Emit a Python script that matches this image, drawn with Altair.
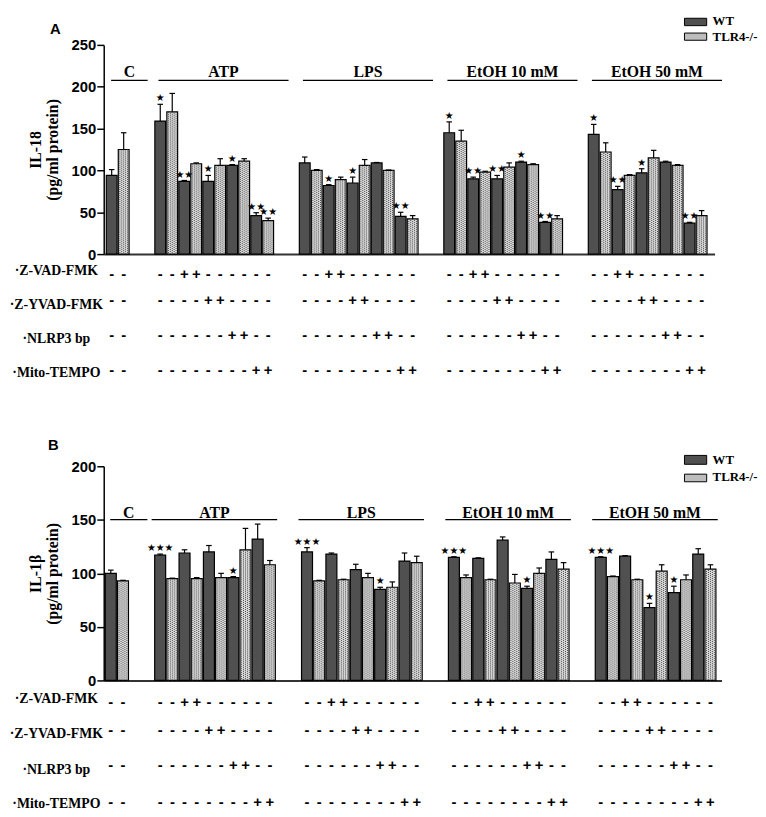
import altair as alt
import pandas as pd

groups = ["C", "ATP", "LPS", "EtOH 10 mM", "EtOH 50 mM"]
series = ["WT", "TLR4-/-"]
treatments = ["·Z-VAD-FMK", "·Z-YVAD-FMK", "·NLRP3 bp", "·Mito-TEMPO"]
# treatment row marked "+" for each WT / TLR4-/- pair of a group (-1 = none)
pair_treatment = [[-1], [-1, 0, 1, 2, 3], [-1, 0, 1, 2, 3], [-1, 0, 1, 2, 3], [-1, 0, 1, 2, 3]]

# Panel A: IL-18
il18_wt = [[94], [159, 87, 87, 106, 46], [109, 82, 85, 109, 45], [145, 90, 90, 110, 38], [143, 77, 97, 110, 37]]
il18_wt_err = [[7], [20, 1, 7, 1, 3.5], [7, 1, 7, 0.5, 5], [13, 2, 4, 1, 1], [12, 4, 5, 1, 1]]
il18_tlr = [[125], [170, 108, 106, 111, 40], [100, 89, 106, 100, 42], [135, 98, 104, 107, 42], [122, 94, 115, 106, 46]]
il18_tlr_err = [[20], [22, 1, 8, 3, 3], [1, 3, 7, 0.5, 4], [13, 1, 5, 1, 4], [11, 1, 9, 1, 6]]
il18_wt_sig = [[""], ["*", "**", "*", "*", "**"], ["", "*", "*", "", "**"], ["*", "**", "**", "*", "**"], ["*", "**", "*", "", "**"]]
il18_tlr_sig = [[""], ["", "", "", "", "**"], ["", "", "", "", ""], ["", "", "", "", ""], ["", "", "", "", ""]]

# Panel B: IL-1beta
il1b_wt = [[100], [117, 119, 120, 96, 132], [120, 118, 103.5, 85, 111.5], [115, 114, 131, 86, 113], [115, 116, 68, 82, 118]]
il1b_wt_err = [[3], [1, 3, 6, 1, 14], [4, 1, 5, 2, 7.5], [0.5, 0.5, 3, 2, 7], [0.5, 0.5, 4, 6, 5]]
il1b_tlr = [[93], [95, 95, 96, 122, 108], [93, 94, 96, 87, 110], [96, 94, 91, 100, 104], [97, 94, 102, 94, 104]]
il1b_tlr_err = [[0.5], [0.5, 1, 4, 20, 4], [0.5, 0.5, 4, 5, 6], [2.5, 0.5, 8, 5, 6], [0.5, 0.5, 6, 4.5, 4]]
il1b_wt_sig = [[""], ["***", "", "", "*", ""], ["***", "", "", "*", ""], ["***", "", "", "*", ""], ["***", "", "*", "*", ""]]
il1b_tlr_sig = [[""], ["", "", "", "", ""], ["", "", "", "", ""], ["", "", "", "", ""], ["", "", "", "", ""]]

GAP = 2.05
WT_FILL = "#505050"
TLR_FILL = "#dcdcdc"
SERIF = "Liberation Serif"
SANS = "Liberation Sans"


def group_starts():
    starts, s = [], 0.0
    for pairs in pair_treatment:
        starts.append(s)
        s += 2 * len(pairs) + GAP
    return starts


def panel(vals, ymax, ytitle, letter, cfg):
    wt, wt_err, wt_sig, tlr, tlr_err, tlr_sig = vals
    W, H, slot, origin = cfg["W"], cfg["H"], cfg["slot"], cfg["origin"]
    starts = group_starts()
    rows, pat, signs = [], [], []
    for g, grp in enumerate(groups):
        for k, tr in enumerate(pair_treatment[g]):
            for s, (v, e, sg) in enumerate(((wt, wt_err, wt_sig), (tlr, tlr_err, tlr_sig))):
                pos = starts[g] + 2 * k + s
                val = v[g][k]
                rows.append({
                    "series": series[s], "x0": pos + 0.05, "x1": pos + 0.95,
                    "xc": pos + 0.5, "cap0": pos + 0.27, "cap1": pos + 0.73,
                    "value": val, "top": val + e[g][k], "zero": 0,
                    "sig": sg[g][k].replace("*", "\u2605"),
                })
                if s == 1:
                    for j in range(5):
                        pat.append({"xp": pos + 0.18 + 0.16 * j, "value": val, "zero": 0, "phase": j % 2})
                for r in range(len(treatments)):
                    signs.append({"xc": pos + 0.5, "row": r, "sign": "+" if tr == r else "-"})
    df = pd.DataFrame(rows)
    pdf = pd.DataFrame(pat)
    sdf = pd.DataFrame(signs)
    heads = []
    for g, grp in enumerate(groups):
        n = 2 * len(pair_treatment[g])
        lo = starts[g] + (0.45 if g == 0 else cfg["hlo"])
        hi = max(starts[g] + n + cfg["hhi"], starts[g] + 3.5)
        heads.append({"label": grp, "lo": lo, "hi": hi, "mid": (lo + hi) / 2})
    hdf = pd.DataFrame(heads)

    xs = alt.Scale(domain=[-origin / slot, (W - origin) / slot], nice=False, zero=False)
    ys = alt.Scale(domain=[0, ymax], nice=False)
    xax = alt.Axis(labels=False, ticks=False, grid=False, title=None,
                   domainColor="#333333", domainWidth=2)
    yax = alt.Axis(
        values=list(range(0, ymax + 1, 50)), grid=False, title=ytitle,
        labelFont=SANS, labelFontWeight="bold", labelFontSize=15, labelColor="black",
        labelPadding=1, tickSize=7, tickWidth=1.5, tickColor="black",
        domainColor="black", domainWidth=1.5,
        titleFont=SERIF, titleFontWeight="bold", titleFontSize=16, titleColor="black",
        titleLineHeight=17, titlePadding=11)

    def X(f):
        return alt.X(f, type="quantitative", scale=xs, axis=xax)

    def Y(f):
        return alt.Y(f, type="quantitative", scale=ys, axis=yax)

    bars = alt.Chart(df).mark_rect(stroke="black", strokeWidth=1.2).encode(
        x=X("x0"), x2="x1", y=Y("value"), y2="zero",
        fill=alt.Fill("series:N", scale=alt.Scale(domain=series, range=[WT_FILL, TLR_FILL]), legend=None),
    )
    layers = [bars]
    for ph in (0, 1):
        layers.append(alt.Chart(pdf).transform_filter(alt.datum.phase == ph).mark_rule(
            strokeDash=[1, 1], strokeDashOffset=ph, strokeWidth=1, color="#444444").encode(
            x=X("xp"), y=Y("value"), y2="zero"))
    err = alt.Chart(df).mark_rule(color="black", strokeWidth=1.2).encode(
        x=X("xc"), y=Y("value"), y2="top")
    cap = alt.Chart(df).mark_rule(color="black", strokeWidth=1.2).encode(
        x=X("cap0"), x2="cap1", y=Y("top"))
    stars = alt.Chart(df).mark_text(font="DejaVu Sans", fontSize=10, color="black",
                                    baseline="alphabetic", dy=-3).encode(
        x=X("xc"), y=Y("top"), text="sig:N")
    layers += [err, cap, stars]

    hline = alt.Chart(hdf).mark_rule(color="black", strokeWidth=1.2).encode(
        x=X("lo"), x2="hi", y=alt.value(cfg["hline"]))
    htext = alt.Chart(hdf).mark_text(font=SERIF, fontWeight="bold", fontSize=16, color="black",
                                     baseline="alphabetic").encode(
        x=X("mid"), y=alt.value(cfg["htext"]), text="label:N")
    layers += [hline, htext]

    for r, name in enumerate(treatments):
        layers.append(alt.Chart(sdf).transform_filter(alt.datum.row == r).mark_text(
            font=SANS, fontWeight="bold", fontSize=15, color="black", baseline="middle").encode(
            x=X("xc"), y=alt.value(cfg["signs"][r]), text="sign:N"))
        layers.append(alt.Chart(pd.DataFrame({"t": [name]})).mark_text(
            font=SERIF, fontWeight="bold", fontSize=14, color="black", baseline="middle",
            align="center").encode(x=alt.value(-48), y=alt.value(cfg["labels"][r]), text="t:N"))

    for i, (name, fill) in enumerate(zip(series, [WT_FILL, "#bdbdbd"])):
        y0, y1, ty = cfg["legend"][i]
        layers.append(alt.Chart(pd.DataFrame({"t": [name]})).mark_rect(
            fill=fill, stroke="black", strokeWidth=1).encode(
            x=alt.value(588.5), x2=alt.value(611), y=alt.value(y0), y2=alt.value(y1)))
        layers.append(alt.Chart(pd.DataFrame({"t": [name]})).mark_text(
            font=SERIF, fontWeight="bold", fontSize=13, color="black", align="left",
            baseline="middle").encode(x=alt.value(617), y=alt.value(ty), text="t:N"))

    layers.append(alt.Chart(pd.DataFrame({"t": [letter]})).mark_text(
        font=SANS, fontWeight="bold", fontSize=15, color="black", baseline="middle").encode(
        x=alt.value(cfg["letter"][0]), y=alt.value(cfg["letter"][1]), text="t:N"))
    if cfg.get("anchor"):
        ax, ay = cfg["anchor"]
        layers.append(alt.Chart(pd.DataFrame({"t": [0]})).mark_rule(color="white", strokeWidth=0.5).encode(
            x=alt.value(ax), x2=alt.value(ax + 1), y=alt.value(ay)))
    return alt.layer(*layers).properties(width=W, height=H)


cfgA = {"W": 619, "H": 212, "slot": 12.15, "origin": 2, "hlo": 0.35, "hhi": 1.2,
        "hline": 36, "htext": 33,
        "signs": [232, 259, 294, 329], "labels": [229, 264, 298, 333],
        "legend": [(-27, -19.5, -24.5), (-12, -4.7, -8)],
        "letter": (-49, -16), "anchor": (-96, -31)}
cfgB = {"W": 626, "H": 217, "slot": 12.35, "origin": 1, "hlo": -0.2, "hhi": 0.1,
        "hline": 54, "htext": 52,
        "signs": [239, 267, 303, 340], "labels": [236, 271, 308, 342],
        "legend": [(-11, -2, -6.7), (8, 15.7, 11.3)],
        "letter": (-51, -21)}

pA = panel((il18_wt, il18_wt_err, il18_wt_sig, il18_tlr, il18_tlr_err, il18_tlr_sig),
           250, ["IL-18", "(pg/ml protein)"], "A", cfgA)
pB = panel((il1b_wt, il1b_wt_err, il1b_wt_sig, il1b_tlr, il1b_tlr_err, il1b_tlr_sig),
           200, ["IL-1\u03b2", "(pg/ml protein)"], "B", cfgB)

chart = alt.vconcat(pA, pB, spacing=215, bounds="flush").properties(
    padding=0, background="white").configure_view(stroke=None)

chart.save("out.html", embed_options={"renderer": "svg", "actions": False})
